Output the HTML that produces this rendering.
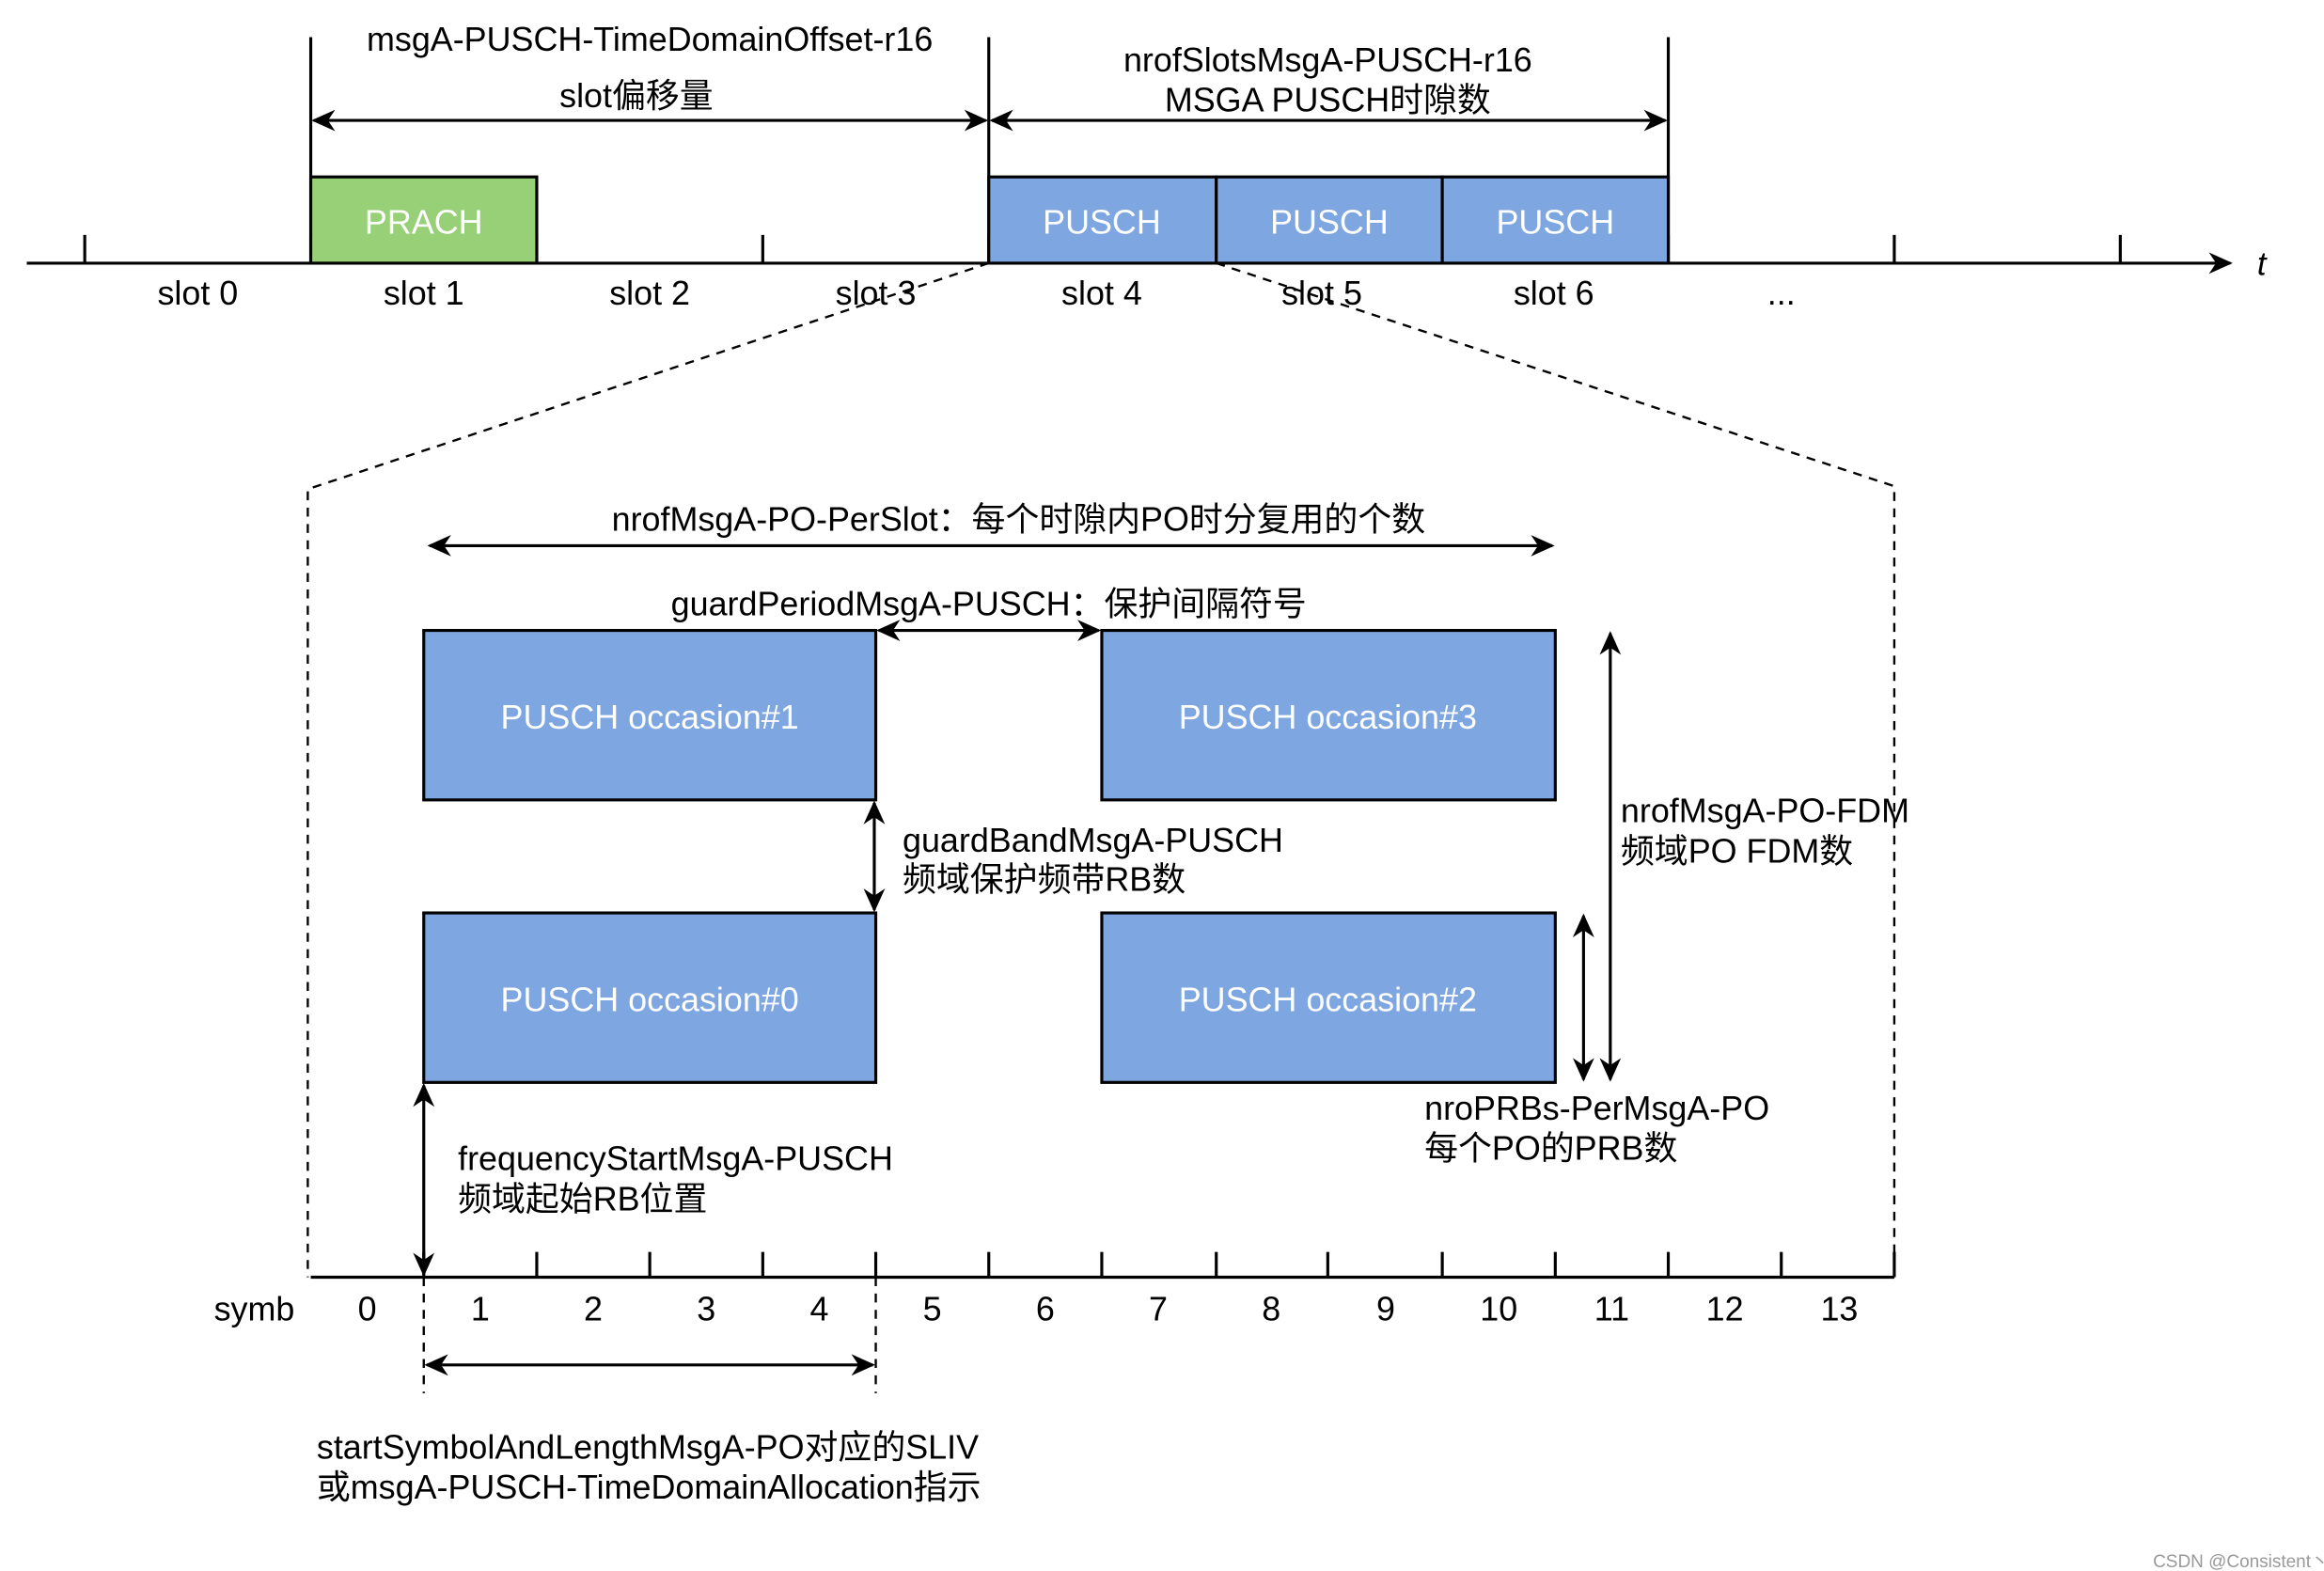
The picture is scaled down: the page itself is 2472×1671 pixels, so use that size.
<!DOCTYPE html>
<html><head><meta charset="utf-8"><style>html,body{margin:0;padding:0;background:#fff;}svg{display:block}</style></head>
<body>
<svg width="2472" height="1671" viewBox="0 0 1563 1056.6" preserveAspectRatio="none" xmlns="http://www.w3.org/2000/svg" font-family="Liberation Sans, Noto Sans CJK SC, sans-serif" font-size="22.7">
<defs>
<marker id="b" viewBox="0 0 10 10" refX="9" refY="5" markerWidth="16" markerHeight="16" orient="auto-start-reverse" markerUnits="userSpaceOnUse"><path d="M0,0.5 L10,5 L0,9.5 L3,5 z" fill="#000"/></marker>
</defs>
<g stroke="#000" stroke-width="2" fill="none">
<line x1="18" y1="177" x2="1500" y2="177" marker-end="url(#b)"/>
<path d="M57 158V177M209 158V177M361 158V177M513 158V177M665 158V177M818 158V177M970 158V177M1122 158V177M1274 158V177M1426 158V177"/>
<path d="M209 25V177M665 25V177M1122 25V177"/>
<line x1="211" y1="81" x2="663" y2="81" marker-start="url(#b)" marker-end="url(#b)"/>
<line x1="667" y1="81" x2="1120" y2="81" marker-start="url(#b)" marker-end="url(#b)"/>
</g>
<g stroke="#000" stroke-width="2">
<rect x="209" y="119" width="152" height="58" fill="#97d077"/>
<rect x="665" y="119" width="153" height="58" fill="#7ea6e0"/>
<rect x="818" y="119" width="152" height="58" fill="#7ea6e0"/>
<rect x="970" y="119" width="152" height="58" fill="#7ea6e0"/>
</g>
<g fill="#fff" text-anchor="middle">
<text x="285" y="157">PRACH</text><text x="741" y="157">PUSCH</text><text x="894" y="157">PUSCH</text><text x="1046" y="157">PUSCH</text>
</g>
<g fill="#000" text-anchor="middle">
<text x="133" y="205">slot 0</text><text x="285" y="205">slot 1</text><text x="437" y="205">slot 2</text><text x="589" y="205">slot 3</text><text x="741" y="205">slot 4</text><text x="889" y="205">slot 5</text><text x="1045" y="205">slot 6</text><text x="1198" y="205">...</text>
<text x="437" y="34">msgA-PUSCH-TimeDomainOffset-r16</text>
<text x="428" y="72">slot偏移量</text>
<text x="893" y="48">nrofSlotsMsgA-PUSCH-r16</text>
<text x="893" y="75">MSGA PUSCH时隙数</text>
</g>
<text x="1518" y="185" font-style="italic" font-size="22">t</text>
<g stroke="#000" stroke-width="1.5" fill="none" stroke-dasharray="6,5">
<path d="M665 177L207 329V859"/>
<path d="M818 177L1274 327V859"/>
<path d="M285 859V937M589 859V937"/>
</g>
<g stroke="#000" stroke-width="2" fill="none">
<line x1="209" y1="859" x2="1274" y2="859"/>
<path d="M285 842V859M361 842V859M437 842V859M513 842V859M589 842V859M665 842V859M741 842V859M818 842V859M893 842V859M970 842V859M1046 842V859M1122 842V859M1198 842V859M1274 842V859"/>
<line x1="287" y1="918" x2="587" y2="918" marker-start="url(#b)" marker-end="url(#b)"/>
<line x1="289" y1="367" x2="1044" y2="367" marker-start="url(#b)" marker-end="url(#b)"/>
<line x1="591" y1="424" x2="739" y2="424" marker-start="url(#b)" marker-end="url(#b)"/>
<line x1="588" y1="540" x2="588" y2="612" marker-start="url(#b)" marker-end="url(#b)"/>
<line x1="1083" y1="426" x2="1083" y2="726" marker-start="url(#b)" marker-end="url(#b)"/>
<line x1="1065" y1="616" x2="1065" y2="726" marker-start="url(#b)" marker-end="url(#b)"/>
<line x1="285" y1="730" x2="285" y2="857" marker-start="url(#b)" marker-end="url(#b)"/>
</g>
<g stroke="#000" stroke-width="2" fill="#7ea6e0">
<rect x="285" y="424" width="304" height="114"/>
<rect x="741" y="424" width="305" height="114"/>
<rect x="285" y="614" width="304" height="114"/>
<rect x="741" y="614" width="305" height="114"/>
</g>
<g fill="#fff" text-anchor="middle">
<text x="437" y="490">PUSCH occasion#1</text><text x="893" y="490">PUSCH occasion#3</text>
<text x="437" y="680">PUSCH occasion#0</text><text x="893" y="680">PUSCH occasion#2</text>
</g>
<g fill="#000" text-anchor="middle">
<text x="171" y="888">symb</text>
<text x="247" y="888">0</text><text x="323" y="888">1</text><text x="399" y="888">2</text><text x="475" y="888">3</text><text x="551" y="888">4</text><text x="627" y="888">5</text><text x="703" y="888">6</text><text x="779" y="888">7</text><text x="855" y="888">8</text><text x="932" y="888">9</text><text x="1008" y="888">10</text><text x="1084" y="888">11</text><text x="1160" y="888">12</text><text x="1237" y="888">13</text>
<text x="685" y="357">nrofMsgA-PO-PerSlot：每个时隙内PO时分复用的个数</text>
<text x="665" y="414">guardPeriodMsgA-PUSCH：保护间隔符号</text>
</g>
<g fill="#000">
<text x="607" y="573">guardBandMsgA-PUSCH</text><text x="607" y="599">频域保护频带RB数</text>
<text x="1090" y="553">nrofMsgA-PO-FDM</text><text x="1090" y="580">频域PO FDM数</text>
<text x="958" y="753">nroPRBs-PerMsgA-PO</text><text x="958" y="780">每个PO的PRB数</text>
<text x="308" y="787">frequencyStartMsgA-PUSCH</text><text x="308" y="814">频域起始RB位置</text>
<text x="213" y="981">startSymbolAndLengthMsgA-PO对应的SLIV</text>
<text x="213" y="1008">或msgA-PUSCH-TimeDomainAllocation指示</text>
<text x="1448" y="1054" font-size="12" fill="#999">CSDN @Consistent丶</text>
</g>
</svg>
</body></html>
